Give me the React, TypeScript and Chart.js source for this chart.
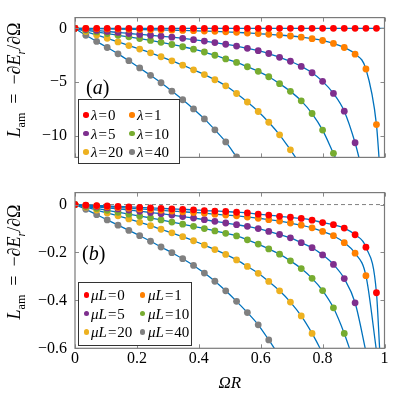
import React, { useEffect, useRef } from "react";
import { Chart, registerables } from "chart.js";

Chart.register(...registerables);

const FONT = "'Liberation Serif', 'DejaVu Serif', serif";

// sample abscissae (ΩR) of the marked points
const omegaR = [0, 0.035, 0.07, 0.104, 0.139, 0.174, 0.209, 0.244, 0.278, 0.313, 0.348, 0.383, 0.418, 0.452, 0.487, 0.522, 0.557, 0.592, 0.626, 0.661, 0.696, 0.731, 0.766, 0.8, 0.835, 0.87, 0.905, 0.94, 0.974];

const seriesColors = ["#ff0000", "#ff8000", "#7e2f8e", "#77ac30", "#edb120", "#808080"];
const lineColor = "#0072bd";
const paramValues = ["0", "1", "5", "10", "20", "40"];

// panel (a): lambda
const lam0 = [0, 0, 0, 0, 0, 0, 0, 0, 0, 0, 0, 0, 0, 0, 0, 0, 0, 0, 0, 0, 0, 0, 0, 0, 0, 0, 0, 0, 0];
const lam1 = [0, -0.015, -0.03, -0.05, -0.07, -0.09, -0.11, -0.13, -0.15, -0.17, -0.19, -0.22, -0.25, -0.28, -0.32, -0.37, -0.43, -0.49, -0.55, -0.62, -0.71, -0.82, -0.96, -1.13, -1.4, -1.78, -2.4, -3.78, -8.95];
const lam5 = [0, -0.09, -0.19, -0.29, -0.38, -0.48, -0.56, -0.64, -0.73, -0.82, -0.93, -1.05, -1.18, -1.32, -1.48, -1.65, -1.86, -2.08, -2.34, -2.69, -3.06, -3.54, -4.13, -4.93, -6.05, -7.7, -10.64];
const lam10 = [0, -0.17, -0.33, -0.49, -0.64, -0.79, -0.95, -1.12, -1.3, -1.5, -1.71, -1.94, -2.2, -2.5, -2.84, -3.17, -3.57, -4.0, -4.5, -5.14, -5.86, -6.74, -7.92, -9.46, -11.62];
const lam20 = [0, -0.3, -0.62, -0.93, -1.26, -1.6, -1.93, -2.28, -2.64, -3.02, -3.42, -3.86, -4.3, -4.78, -5.34, -6.06, -6.85, -7.73, -8.73, -9.9, -11.3];
const lam40 = [0, -0.64, -1.22, -1.78, -2.37, -3.01, -3.68, -4.37, -5.06, -5.84, -6.64, -7.49, -8.42, -9.44, -10.56, -11.95];
const tailAX = [1.0, 0.983, 0.92, 0.846, 0.72, 0.531];
const tailAY = [0, -12.3, -12.3, -12.3, -12.3, -12.3];

// panel (b): mu L
const mu0 = [0, -0.002, -0.004, -0.006, -0.008, -0.01, -0.012, -0.014, -0.016, -0.018, -0.02, -0.022, -0.025, -0.027, -0.029, -0.032, -0.035, -0.04, -0.044, -0.049, -0.053, -0.058, -0.065, -0.075, -0.084, -0.098, -0.126, -0.178, -0.368];
const mu1 = [0, -0.003, -0.006, -0.009, -0.012, -0.015, -0.018, -0.021, -0.024, -0.027, -0.03, -0.033, -0.036, -0.04, -0.044, -0.047, -0.052, -0.057, -0.063, -0.069, -0.077, -0.086, -0.097, -0.112, -0.13, -0.159, -0.203, -0.297];
const mu5 = [0, -0.005, -0.009, -0.014, -0.018, -0.023, -0.028, -0.033, -0.038, -0.044, -0.05, -0.056, -0.063, -0.07, -0.077, -0.084, -0.091, -0.1, -0.112, -0.125, -0.139, -0.159, -0.18, -0.21, -0.25, -0.309, -0.41];
const mu10 = [0, -0.008, -0.016, -0.024, -0.032, -0.04, -0.048, -0.056, -0.064, -0.073, -0.082, -0.091, -0.1, -0.11, -0.12, -0.131, -0.147, -0.165, -0.185, -0.207, -0.235, -0.267, -0.308, -0.359, -0.431, -0.538];
const mu20 = [0, -0.011, -0.023, -0.035, -0.047, -0.06, -0.074, -0.088, -0.103, -0.118, -0.134, -0.151, -0.169, -0.188, -0.208, -0.231, -0.258, -0.287, -0.321, -0.36, -0.407, -0.465, -0.538];
const mu40 = [0, -0.02, -0.042, -0.064, -0.086, -0.108, -0.13, -0.153, -0.177, -0.201, -0.226, -0.254, -0.286, -0.32, -0.36, -0.404, -0.451, -0.502, -0.565];
const tailBX = [0.985, 0.975, 0.941, 0.892, 0.8, 0.654];
const tailBY = [-0.62, -0.62, -0.62, -0.62, -0.62, -0.62];

const xTicks = [0, 0.2, 0.4, 0.6, 0.8, 1];
const yTicksA = [-10, -5, 0];
const yTicksB = [-0.6, -0.4, -0.2, 0];

const fmt = (v: number) => (v < 0 ? "\u2212" + String(Math.abs(v)) : String(v));

const framePlugin = (yTicks: number[]) => ({
  id: "frame",
  afterDraw(chart: any) {
    const { ctx, chartArea: a, scales } = chart;
    ctx.save();
    ctx.strokeStyle = "#8a8a8a";
    ctx.lineWidth = 1;
    ctx.beginPath();
    const tl = 4;
    xTicks.forEach((v) => {
      const px = Math.round(scales.x.getPixelForValue(v)) + 0.5;
      ctx.moveTo(px, a.bottom);
      ctx.lineTo(px, a.bottom - tl);
      ctx.moveTo(px, a.top);
      ctx.lineTo(px, a.top + tl);
    });
    yTicks.forEach((v) => {
      const py = Math.round(scales.y.getPixelForValue(v)) + 0.5;
      ctx.moveTo(a.left, py);
      ctx.lineTo(a.left + tl, py);
      ctx.moveTo(a.right, py);
      ctx.lineTo(a.right - tl, py);
    });
    ctx.stroke();
    ctx.strokeStyle = "#7a7a7a";
    ctx.lineWidth = 1.2;
    ctx.strokeRect(a.left, a.top, a.right - a.left, a.bottom - a.top);
    ctx.restore();
  },
});

function buildChart(
  canvas: HTMLCanvasElement,
  series: number[][],
  tailX: number[],
  tailY: number[],
  yMin: number,
  yMax: number,
  yTicks: number[],
  bottomPanel: boolean
) {
  const datasets: any[] = [];
  series.forEach((vals, i) => {
    datasets.push({
      data: vals.map((y, k) => ({ x: omegaR[k], y })),
      showLine: false,
      pointRadius: 3.4,
      pointBorderWidth: 0,
      pointBackgroundColor: seriesColors[i],
      pointBorderColor: seriesColors[i],
      clip: 0,
      order: 0,
    });
  });
  series.forEach((vals, i) => {
    const pts = vals.map((y, k) => ({ x: omegaR[k], y }));
    pts.push({ x: tailX[i], y: tailY[i] });
    datasets.push({
      data: pts,
      borderColor: lineColor,
      borderWidth: 1.3,
      pointRadius: 0,
      cubicInterpolationMode: "monotone",
      clip: 0,
      order: 1,
    });
  });
  if (bottomPanel) {
    datasets.push({
      data: [{ x: 0, y: 0 }, { x: 1, y: 0 }],
      borderColor: "#808080",
      borderWidth: 1,
      borderDash: [4, 3],
      pointRadius: 0,
      clip: 0,
      order: 2,
    });
  }
  return new Chart(canvas, {
    type: "line",
    data: { datasets },
    options: {
      animation: false,
      responsive: false,
      events: [],
      layout: { padding: { left: 0, right: 9.5, top: bottomPanel ? 7.5 : 2.5, bottom: bottomPanel ? 0 : 10 } },
      plugins: { legend: { display: false }, tooltip: { enabled: false } },
      scales: {
        x: {
          type: "linear",
          min: 0,
          max: 1,
          afterBuildTicks: (s: any) => {
            s.ticks = xTicks.map((v) => ({ value: v }));
          },
          afterFit: (s: any) => {
            s.height = bottomPanel ? 46.7 : 0;
          },
          grid: { display: false, drawTicks: false },
          border: { display: false },
          ticks: {
            display: bottomPanel,
            autoSkip: false,
            maxRotation: 0,
            padding: 1,
            color: "#000",
            font: { family: FONT, size: 16 },
            callback: (v: any) => fmt(Number(v)),
          },
          title: {
            display: bottomPanel,
            text: "ΩR",
            color: "#000",
            font: { family: FONT, size: 17, style: "italic" },
            padding: { top: 0, bottom: 1 },
          },
        },
        y: {
          type: "linear",
          min: yMin,
          max: yMax,
          afterBuildTicks: (s: any) => {
            s.ticks = yTicks.map((v) => ({ value: v }));
          },
          afterFit: (s: any) => {
            s.width = 75;
          },
          grid: { display: false, drawTicks: false },
          border: { display: false },
          ticks: {
            padding: 8,
            color: "#000",
            font: { family: FONT, size: 16 },
            callback: (v: any) => fmt(Number(v)),
          },
        },
      },
    } as any,
    plugins: [framePlugin(yTicks)],
  });
}

function Legend(props: { left: number; top: number; width: number; height: number; rowY: number[]; markX: number[]; textX: number[]; sym: string }) {
  const { left, top, width, height, rowY, markX, textX, sym } = props;
  return (
    <div
      style={{
        position: "absolute",
        left,
        top,
        width,
        height,
        boxSizing: "border-box",
        border: "1px solid #333",
        background: "#fff",
      }}
    >
      {paramValues.map((p, i) => {
        const r = Math.floor(i / 2);
        const c = i % 2;
        return (
          <React.Fragment key={i}>
            <div
              style={{
                position: "absolute",
                left: markX[c] - 2.8,
                top: rowY[r] - 2.8,
                width: 5.6,
                height: 5.6,
                borderRadius: "50%",
                background: seriesColors[i],
              }}
            />
            <span
              style={{
                position: "absolute",
                left: textX[c],
                top: rowY[r],
                transform: "translateY(-50%)",
                fontSize: 15,
                lineHeight: 1,
                whiteSpace: "nowrap",
                color: "#000",
              }}
            >
              <i>{sym}</i>
              <span style={{ margin: "0 1px" }}>=</span>
              {p}
            </span>
          </React.Fragment>
        );
      })}
    </div>
  );
}

function YTitle(props: { cy: number }) {
  return (
    <div
      style={{
        position: "absolute",
        left: 15.5,
        top: props.cy,
        transform: "translate(-50%, -50%) rotate(-90deg)",
        whiteSpace: "nowrap",
        fontSize: 18,
        lineHeight: 1,
        color: "#000",
      }}
    >
      <i>L</i>
      <sub style={{ fontSize: 12 }}>am</sub>
      {"\u2002=\u2002\u2212\u2202"}
      <i>E</i>
      <sub style={{ fontSize: 12 }}>
        <i>r</i>
      </sub>
      {"/\u2202Ω"}
    </div>
  );
}

export default function App() {
  const refA = useRef<HTMLCanvasElement>(null);
  const refB = useRef<HTMLCanvasElement>(null);
  useEffect(() => {
    const a = buildChart(refA.current!, [lam0, lam1, lam5, lam10, lam20, lam40], tailAX, tailAY, -12, 1, yTicksA, false);
    const b = buildChart(refB.current!, [mu0, mu1, mu5, mu10, mu20, mu40], tailBX, tailBY, -0.6, 0.05, yTicksB, true);
    return () => {
      a.destroy();
      b.destroy();
    };
  }, []);
  return (
    <div style={{ position: "absolute", left: 0, top: 0, width: 394, height: 395, background: "#fff", fontFamily: FONT, overflow: "hidden" }}>
      <canvas ref={refA} width={394} height={175} style={{ position: "absolute", left: 0, top: 0, width: 394, height: 175 }} />
      <canvas ref={refB} width={394} height={220} style={{ position: "absolute", left: 0, top: 175, width: 394, height: 220 }} />
      <YTitle cy={80} />
      <YTitle cy={262} />
      <div style={{ position: "absolute", left: 86, top: 87, transform: "translateY(-50%)", fontSize: 20, lineHeight: 1 }}>
        (<i>a</i>)
      </div>
      <div style={{ position: "absolute", left: 82, top: 253, transform: "translateY(-50%)", fontSize: 20, lineHeight: 1 }}>
        (<i>b</i>)
      </div>
      <Legend left={78} top={99} width={102} height={65} rowY={[15, 33.5, 52]} markX={[7, 53]} textX={[12, 58]} sym="λ" />
      <Legend left={78} top={282} width={114} height={64} rowY={[12, 30.5, 49]} markX={[7.7, 63.7]} textX={[12, 69]} sym="μL" />
    </div>
  );
}
